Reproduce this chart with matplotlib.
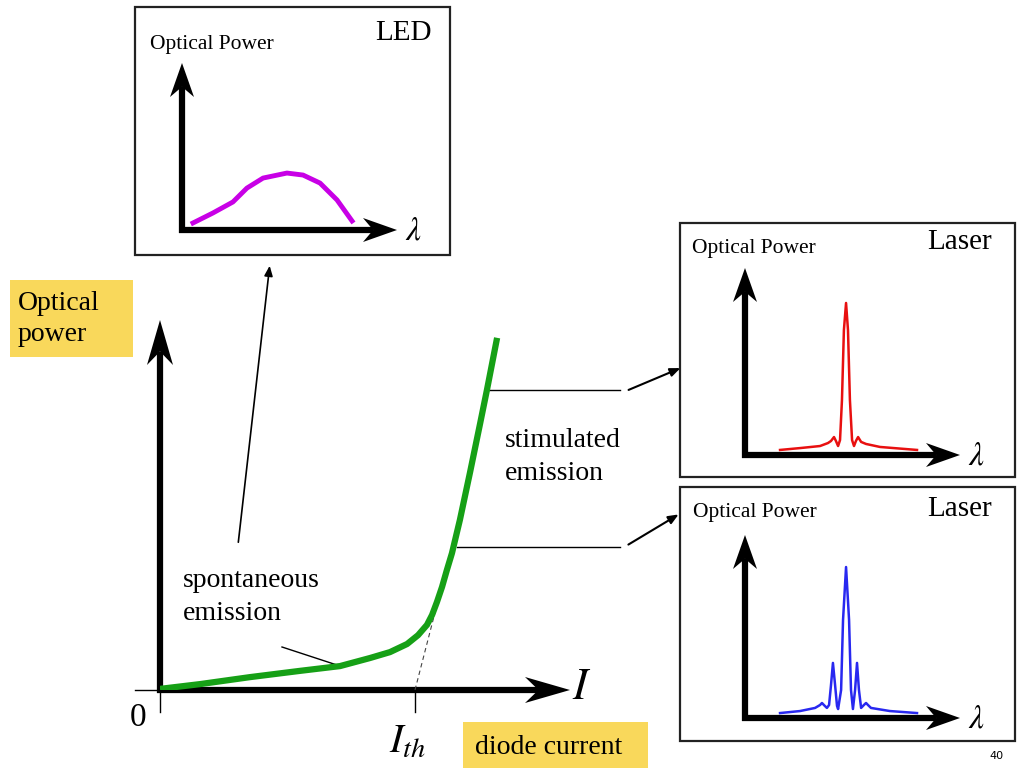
import numpy as np
import matplotlib
matplotlib.use("Agg")
import matplotlib.pyplot as plt
from matplotlib.patches import Polygon, Rectangle

plt.rcParams['font.family'] = ['Liberation Serif', 'DejaVu Serif']
plt.rcParams['mathtext.fontset'] = 'stix'

# L-I curve: current in units of I_th, relative optical power
current = [0, 0.157, 0.353, 0.549, 0.706, 0.824, 0.902, 0.969, 1.012, 1.047, 1.067,
           1.086, 1.106, 1.125, 1.145, 1.176, 1.216, 1.255, 1.282, 1.322]
power = [0.003, 0.016, 0.035, 0.052, 0.065, 0.087, 0.103, 0.125, 0.149, 0.177, 0.204,
         0.239, 0.280, 0.326, 0.372, 0.462, 0.592, 0.723, 0.815, 0.957]
tangent_x = [1.0, 1.086]
tangent_y = [0.0, 0.231]

# LED spectrum
led_wl = [0.051, 0.144, 0.237, 0.302, 0.377, 0.488, 0.563, 0.642, 0.721, 0.791]
led_p = [0.042, 0.102, 0.168, 0.251, 0.311, 0.341, 0.329, 0.281, 0.180, 0.054]

# single-mode laser spectrum
red_wl = [0.163, 0.256, 0.349, 0.386, 0.400, 0.414, 0.423, 0.433, 0.442, 0.451, 0.460,
          0.470, 0.479, 0.488, 0.498, 0.507, 0.516, 0.526, 0.540, 0.563, 0.628, 0.800]
red_p = [0.027, 0.037, 0.048, 0.064, 0.075, 0.096, 0.075, 0.048, 0.080, 0.294, 0.668,
         0.813, 0.668, 0.294, 0.080, 0.048, 0.075, 0.096, 0.070, 0.059, 0.043, 0.027]

# multi-mode laser spectrum
blue_wl = [0.163, 0.256, 0.326, 0.349, 0.358, 0.367, 0.381, 0.391, 0.400, 0.409, 0.419,
           0.428, 0.433, 0.447, 0.456, 0.470, 0.484, 0.493, 0.502, 0.512, 0.521, 0.530,
           0.540, 0.553, 0.563, 0.572, 0.586, 0.674, 0.800]
blue_p = [0.027, 0.038, 0.055, 0.071, 0.082, 0.071, 0.055, 0.071, 0.180, 0.301, 0.180,
          0.066, 0.049, 0.153, 0.536, 0.825, 0.536, 0.153, 0.049, 0.153, 0.301, 0.153,
          0.055, 0.071, 0.082, 0.071, 0.055, 0.038, 0.027]

W, H = 1024, 768
fig = plt.figure(figsize=(10.24, 7.68), dpi=100)
bg = fig.add_axes([0, 0, 1, 1])
bg.set_xlim(0, W)
bg.set_ylim(H, 0)
bg.axis('off')


def px_axes(x0, y0, w, h):
    # axes whose lower-left corner sits at pixel (x0, y0), y measured from top
    a = fig.add_axes([x0 / W, (H - y0) / H, w / W, h / H])
    a.patch.set_alpha(0)
    a.axis('off')
    return a


def stealth(x0, y0, x1, y1, lw=4.5, hl=40, hw=12, color='black'):
    d = np.array([x1 - x0, y1 - y0], float)
    d /= np.hypot(*d)
    n = np.array([-d[1], d[0]])
    tip = np.array([x1, y1], float)
    notch = tip - 0.7 * hl * d
    bg.plot([x0, notch[0]], [y0, notch[1]], color=color, lw=lw, solid_capstyle='butt')
    pts = [tip, tip - hl * d + hw * n, notch, tip - hl * d - hw * n]
    bg.add_patch(Polygon(pts, closed=True, color=color, lw=0))


# main L-I diagram
stealth(160, 693, 160, 320, hl=45, hw=13)
stealth(157, 690, 570, 690, hl=45, hw=13)
bg.plot([135, 160], [690, 690], color='black', lw=1)
bg.plot([160, 160], [690, 712], color='black', lw=1)
bg.plot([415, 415], [690, 712], color='black', lw=1)

ax = px_axes(160, 690, 408, 368)
ax.set_xlim(0, 1.6)
ax.set_ylim(0, 1)
ax.plot(tangent_x, tangent_y, color='#444444', lw=0.8, ls=(0, (4, 3)))
ax.plot(current, power, color='#16a016', lw=4.5, solid_capstyle='butt', solid_joinstyle='round')

bg.text(138, 718, '0', fontsize=24, ha='center', va='center')
bg.text(572, 688, '$I$', fontsize=32, ha='left', va='center')
bg.text(408, 743, '$I_{th}$', fontsize=29, ha='center', va='center')

# yellow labels
bg.add_patch(Rectangle((10, 280), 123, 77, color='#F9D85B', lw=0))
bg.text(18, 319, 'Optical\npower', fontsize=20, ha='left', va='center', linespacing=1.35)
bg.add_patch(Rectangle((463, 722), 185, 46, color='#F9D85B', lw=0))
bg.text(475, 747, 'diode current', fontsize=20, ha='left', va='center')

bg.text(505, 457, 'stimulated\nemission', fontsize=20, ha='left', va='center', linespacing=1.4)
bg.text(183, 597, 'spontaneous\nemission', fontsize=20, ha='left', va='center', linespacing=1.4)

# leader lines
bg.plot([282, 340], [647, 666], color='black', lw=1)
bg.annotate('', xy=(270, 263), xytext=(238, 545),
            arrowprops=dict(arrowstyle='-|>,head_length=0.6,head_width=0.25', color='black', lw=1.2))
bg.plot([487, 620], [390, 390], color='black', lw=1)
bg.plot([457, 620], [547, 547], color='black', lw=1)
bg.annotate('', xy=(683, 367), xytext=(626, 391),
            arrowprops=dict(arrowstyle='-|>,head_length=0.6,head_width=0.25', color='black', lw=1.5))
bg.annotate('', xy=(681, 513), xytext=(626, 546),
            arrowprops=dict(arrowstyle='-|>,head_length=0.6,head_width=0.25', color='black', lw=1.5))

# inset boxes
insets = [
    dict(box=(135, 7, 315, 248), org=(182, 230), w=215, h=167, title='LED', tpos=(375, 33), opos=(150, 44),
         wl=led_wl, p=led_p, color='#C800E6', lw=3.5),
    dict(box=(680, 223, 335, 254), org=(745, 455), w=215, h=187, title='Laser', tpos=(927, 242), opos=(692, 249),
         wl=red_wl, p=red_p, color='#E81010', lw=1.8),
    dict(box=(680, 487, 335, 254), org=(745, 718), w=215, h=183, title='Laser', tpos=(927, 509), opos=(693, 512),
         wl=blue_wl, p=blue_p, color='#2828F0', lw=1.8),
]
for s in insets:
    bx, by, bw, bh = s['box']
    bg.add_patch(Rectangle((bx, by), bw, bh, fill=False, edgecolor='#222222', lw=1.6))
    ox, oy = s['org']
    stealth(ox, oy + 3, ox, oy - s['h'], hl=34, hw=12)
    stealth(ox - 3, oy, ox + s['w'], oy, hl=34, hw=12)
    bg.text(s['opos'][0], s['opos'][1], 'Optical Power', fontsize=15.5, ha='left', va='center')
    bg.text(s['tpos'][0], s['tpos'][1], s['title'], fontsize=21, ha='left', va='center')
    bg.text(ox + s['w'] + 8, oy + 1, r'$\lambda$', fontsize=24, ha='left', va='center')
    a = px_axes(ox, oy, s['w'], s['h'])
    a.set_xlim(0, 1)
    a.set_ylim(0, 1)
    a.plot(s['wl'], s['p'], color=s['color'], lw=s['lw'], solid_joinstyle='round')

bg.text(996, 756, '40', fontsize=8, family='DejaVu Sans', ha='center', va='center')

fig.savefig('out.png', dpi=100)
